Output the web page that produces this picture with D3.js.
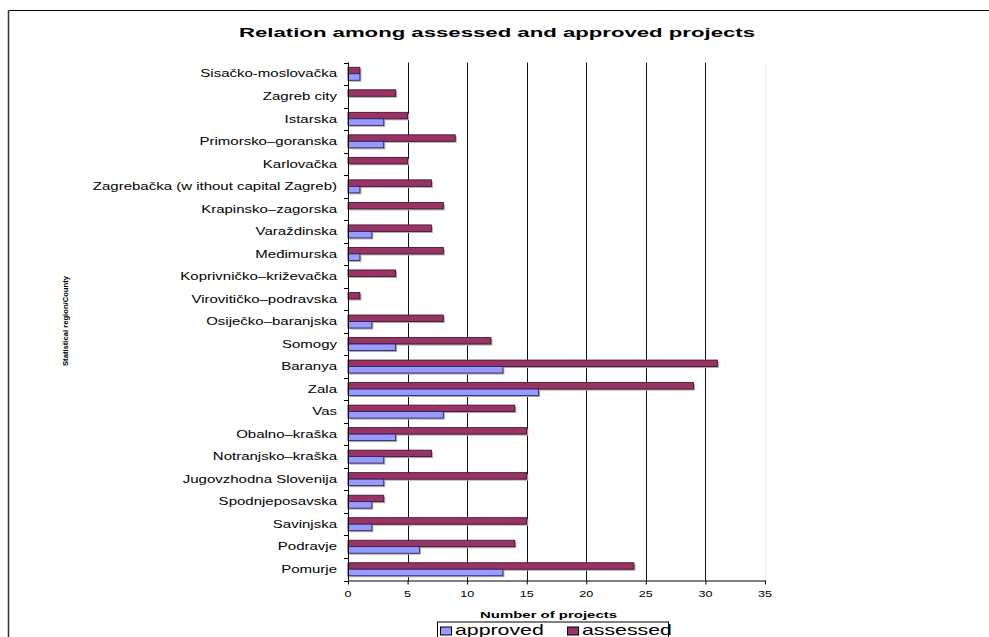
<!DOCTYPE html>
<html>
<head>
<meta charset="utf-8">
<script src="https://cdn.jsdelivr.net/npm/d3@7"></script>
<style>
  body { margin: 0; background: #fff; }
  svg { display: block; font-family: "Liberation Sans", Arial, sans-serif; }
</style>
</head>
<body>
<svg id="chart" width="989" height="637"></svg>
<script>
// counties, listed top to bottom as in the chart
const regions = [
  "Sisačko-moslovačka", "Zagreb city", "Istarska", "Primorsko–goranska", "Karlovačka",
  "Zagrebačka (w ithout capital Zagreb)", "Krapinsko–zagorska", "Varaždinska", "Međimurska",
  "Koprivničko–križevačka", "Virovitičko–podravska", "Osiječko–baranjska", "Somogy",
  "Baranya", "Zala", "Vas", "Obalno–kraška ", "Notranjsko–kraška", "Jugovzhodna Slovenija",
  "Spodnjeposavska", "Savinjska", "Podravje", "Pomurje"
];
const assessed = [1, 4, 5, 9, 5, 7, 8, 7, 8, 4, 1, 8, 12, 31, 29, 14, 15, 7, 15, 3, 15, 14, 24];
const approved = [1, 0, 3, 3, 0, 1, 0, 2, 1, 0, 0, 2, 4, 13, 16, 8, 4, 3, 3, 2, 2, 6, 13];
const xTicks = [0, 5, 10, 15, 20, 25, 30, 35];

const colors = {approved: "#9999ff", assessed: "#993366"};

const svg = d3.select("#chart");

// the original export is stretched sideways, so text gets a horizontal scale
function label(parent, x, y, str, k, anchor) {
  return parent.append("text")
    .attr("transform", `translate(${x},${y}) scale(${k},1)`)
    .attr("text-anchor", anchor || "start")
    .text(str);
}

// outer frame (only top and left edges are visible in the original)
svg.append("line").attr("x1", 8.5).attr("x2", 989).attr("y1", 10.5).attr("y2", 10.5)
  .attr("stroke", "#000").attr("stroke-width", 1.2);
svg.append("line").attr("x1", 8.5).attr("x2", 8.5).attr("y1", 10.5).attr("y2", 637)
  .attr("stroke", "#333").attr("stroke-width", 1.5);

svg.append("text")
  .attr("x", 497).attr("y", 37)
  .attr("text-anchor", "middle")
  .attr("font-size", 13).attr("font-weight", "bold")
  .attr("textLength", 516).attr("lengthAdjust", "spacingAndGlyphs")
  .text("Relation among assessed and approved projects");

const plot = {left: 348, right: 765, top: 62.5, bottom: 580.5};

const x = d3.scaleLinear().domain([0, 35]).range([plot.left, plot.right]);
const y = d3.scaleBand().domain(regions).range([plot.top, plot.bottom]);
const barH = 6.5;

// vertical gridlines
svg.append("g")
  .selectAll("line")
  .data(xTicks.slice(1))
  .join("line")
  .attr("x1", d => Math.round(x(d)) + 0.5).attr("x2", d => Math.round(x(d)) + 0.5)
  .attr("y1", plot.top).attr("y2", plot.bottom)
  .attr("stroke", d => d === 35 ? "#eee" : "#111")
  .attr("stroke-width", 1);

// bars, with a grey drop shadow like the spreadsheet export
const rows = svg.append("g")
  .selectAll("g")
  .data(regions.map((r, i) => ({region: r, assessed: assessed[i], approved: approved[i]})))
  .join("g")
  .attr("transform", d => `translate(0,${y(d.region) + y.bandwidth() / 2})`);

[["assessed", -barH], ["approved", 0]].forEach(([key, off]) => {
  const sel = rows.filter(d => d[key] > 0);
  sel.append("rect")
    .attr("x", x(0) + 1.5).attr("y", off + 1.5)
    .attr("width", d => x(d[key]) - x(0)).attr("height", barH)
    .attr("fill", "#aaa");
  sel.append("rect")
    .attr("x", x(0)).attr("y", off)
    .attr("width", d => x(d[key]) - x(0)).attr("height", barH)
    .attr("fill", colors[key])
    .attr("stroke", key === "assessed" ? "#3a0d22" : "#20205a")
    .attr("stroke-width", 0.8);
});

// category axis
const yAxis = svg.append("g").attr("transform", `translate(${plot.left},0)`);
yAxis.append("line")
  .attr("x1", 0.5).attr("x2", 0.5).attr("y1", plot.top).attr("y2", plot.bottom)
  .attr("stroke", "#000");
yAxis.selectAll(".tick")
  .data(regions.map(r => y(r)).concat([plot.bottom]))
  .join("line")
  .attr("x1", -4).attr("x2", 0.5)
  .attr("y1", d => Math.round(d) + 0.5).attr("y2", d => Math.round(d) + 0.5)
  .attr("stroke", "#000");
const catLabels = yAxis.append("g").attr("font-size", 10.5);
regions.forEach(r => {
  label(catLabels, -11, y(r) + y.bandwidth() / 2 + 3.7, r, 1.43, "end");
});

// value axis
const xAxis = d3.axisBottom(x).tickValues(xTicks).tickSize(4).tickSizeOuter(0).tickFormat("");
const xg = svg.append("g")
  .attr("transform", `translate(0,${plot.bottom})`)
  .call(xAxis);
xg.select(".domain").attr("stroke", "#000");
xg.selectAll(".tick line").attr("stroke", "#000");
const tickLabels = svg.append("g").attr("font-size", 9);
xTicks.forEach(t => label(tickLabels, x(t), 596.5, t, 1.4, "middle"));

svg.append("text")
  .attr("x", 548.5).attr("y", 617.5)
  .attr("text-anchor", "middle")
  .attr("font-size", 9.5).attr("font-weight", "bold")
  .attr("textLength", 137).attr("lengthAdjust", "spacingAndGlyphs")
  .text("Number of projects");

// squeezed vertical axis title
svg.append("text")
  .attr("transform", "translate(68,321) rotate(-90)")
  .attr("text-anchor", "middle")
  .attr("font-size", 8).attr("font-weight", "bold")
  .attr("textLength", 90).attr("lengthAdjust", "spacingAndGlyphs")
  .text("Statistical region/County");

// legend
const legend = svg.append("g").attr("transform", "translate(437,621.5)").attr("font-size", 15);
legend.append("rect")
  .attr("x", 0.5).attr("y", 0.5).attr("width", 231).attr("height", 22)
  .attr("fill", "#fff").attr("stroke", "#000");
const items = [["approved", 3, 18], ["assessed", 130, 145]];
items.forEach(([key, sx, tx]) => {
  legend.append("rect")
    .attr("x", sx + 0.5).attr("y", 5.5).attr("width", 11).attr("height", 8)
    .attr("fill", colors[key]).attr("stroke", "#000");
  label(legend, tx, 13.5, key, 1.42);
});
</script>
</body>
</html>
